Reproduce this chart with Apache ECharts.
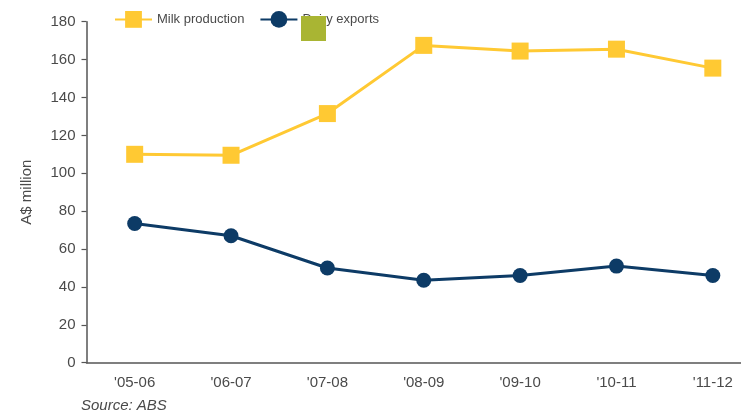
<!DOCTYPE html>
<html>
<head>
<meta charset="utf-8">
<script src="https://cdn.jsdelivr.net/npm/echarts@6/dist/echarts.min.js"></script>
<style>
  html, body { margin: 0; padding: 0; background: #fff; overflow: hidden; }
  /* the plot runs a little past the right edge of the window */
  #chart { width: 761px; height: 416px; }
</style>
</head>
<body>
<div id="chart"></div>
<script>
// Financial years on the category axis
const years = ["'05-06", "'06-07", "'07-08", "'08-09", "'09-10", "'10-11", "'11-12"];

// Values in A$ million
const milkProduction = [110, 109.5, 131.5, 167.5, 164.5, 165.5, 155.5];
const dairyExports = [73.5, 67, 50, 43.5, 46, 51, 46];

// Value axis ticks
const yMin = 0;
const yMax = 180;
const yStep = 20;

const font = 'Liberation Sans, Arial, Helvetica, sans-serif';
const textColor = '#4a4a4a';
const axisColor = '#555555';

const chart = echarts.init(document.getElementById('chart'), null, { renderer: 'canvas' });

chart.setOption({
  animation: false,
  backgroundColor: '#ffffff',
  textStyle: { fontFamily: font },
  title: {
    text: 'Source: ABS',
    left: 81,
    top: 398,
    padding: 0,
    textStyle: {
      fontFamily: font,
      fontSize: 15,
      fontStyle: 'italic',
      fontWeight: 'normal',
      color: textColor
    }
  },
  legend: {
    left: 114,
    top: 11,
    padding: 0,
    itemWidth: 37,
    itemHeight: 21,
    itemGap: 15,
    textStyle: { fontFamily: font, fontSize: 13, color: textColor },
    data: ['Milk production', 'Dairy exports']
  },
  graphic: [
    {
      type: 'rect',
      left: 301,
      top: 16,
      z: 100,
      shape: { width: 25, height: 25 },
      style: { fill: '#a9b533' }
    }
  ],
  grid: {
    left: 86.5,
    right: 0,
    top: 21.7,
    bottom: 53.3
  },
  xAxis: {
    type: 'category',
    data: years,
    boundaryGap: true,
    axisLine: { show: true, lineStyle: { color: axisColor, width: 1.5 } },
    axisTick: { show: false },
    axisLabel: {
      margin: 13,
      fontFamily: font,
      fontSize: 15,
      color: textColor
    },
    splitLine: { show: false }
  },
  yAxis: {
    type: 'value',
    min: yMin,
    max: yMax,
    interval: yStep,
    name: 'A$ million',
    nameLocation: 'middle',
    nameGap: 52,
    nameRotate: 90,
    nameTextStyle: { fontFamily: font, fontSize: 15, color: textColor },
    axisLine: { show: true, lineStyle: { color: axisColor, width: 1.5 } },
    axisTick: { show: true, length: 5, lineStyle: { color: axisColor, width: 1.2 } },
    axisLabel: {
      margin: 11,
      fontFamily: font,
      fontSize: 15,
      color: textColor
    },
    splitLine: { show: false }
  },
  series: [
    {
      name: 'Milk production',
      type: 'line',
      data: milkProduction,
      symbol: 'rect',
      symbolSize: 17,
      color: '#ffc933',
      lineStyle: { width: 3, color: '#ffc933' },
      itemStyle: { color: '#ffc933' },
      z: 3
    },
    {
      name: 'Dairy exports',
      type: 'line',
      data: dairyExports,
      symbol: 'circle',
      symbolSize: 15,
      color: '#0d3b66',
      lineStyle: { width: 3, color: '#0d3b66' },
      itemStyle: { color: '#0d3b66' },
      z: 3
    }
  ]
});
</script>
</body>
</html>
